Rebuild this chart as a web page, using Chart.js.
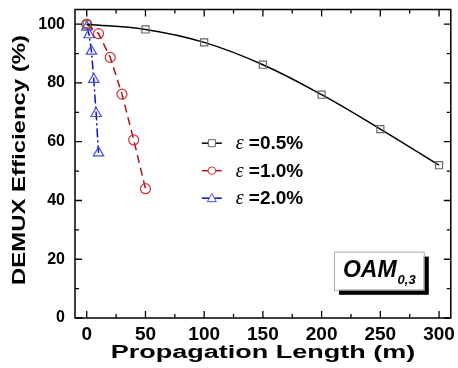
<!DOCTYPE html>
<html>
<head>
<meta charset="utf-8">
<script src="https://cdn.jsdelivr.net/npm/chart.js@4.4.1/dist/chart.umd.min.js"></script>
<style>
  html, body { margin: 0; padding: 0; background: #fff; }
  #wrap { width: 458px; height: 368px; }
</style>
</head>
<body>
<div id="wrap"><canvas id="myChart" width="458" height="368"></canvas></div>
<script>
// propagation length (m) and efficiency (%)
const lenA = [0, 50, 100, 150, 200, 250, 300];
const effA = [100, 98.2, 93.8, 86.2, 76, 64.3, 52];
const lenB = [0, 10, 20, 30, 40, 50];
const effB = [100, 96.8, 88.7, 76.2, 60.6, 44];
const lenC = [0, 2, 4, 6, 8, 10];
const effC = [99, 96.4, 90.8, 81.2, 69.6, 56.2];

const seriesNames = ["=0.5%", "=1.0%", "=2.0%"];
const xTicks = [0, 50, 100, 150, 200, 250, 300];
const yTicks = [0, 20, 40, 60, 80, 100];
const xTitle = "Propagation Length (m)";
const yTitle = "DEMUX Efficiency (%)";
const modeLabel = "OAM";
const modeSub = "0,3";

function pts(xs, ys) {
  return xs.map((v, i) => ({ x: v, y: ys[i] }));
}

const styles = [
  { line: "#000000", pt: "#666666", shape: "rect", dash: [], tension: 0.4 },
  { line: "#b01010", pt: "#d03030", shape: "circle", dash: [8, 5], tension: 0 },
  { line: "#0a10c0", pt: "#4050e0", shape: "triangle", dash: [9, 3, 2, 3], tension: 0 }
];

const dataSource = {
  datasets: [pts(lenA, effA), pts(lenB, effB), pts(lenC, effC)].map((d, i) => ({
    label: seriesNames[i],
    data: d,
    showLine: true,
    borderColor: styles[i].line,
    borderWidth: 1.5,
    borderDash: styles[i].dash,
    tension: styles[i].tension,
    pointStyle: styles[i].shape,
    pointRadius: styles[i].shape === "triangle" ? 6 : 5,
    pointBorderColor: styles[i].pt,
    pointBackgroundColor: "rgba(255,255,255,0)",
    pointBorderWidth: 1.2
  }))
};

// the original text is stretched sideways, so titles are drawn here
function wideText(ctx, text, cx, cy, rot, sx) {
  ctx.save();
  ctx.translate(cx, cy);
  ctx.rotate(rot);
  ctx.scale(sx, 1);
  ctx.font = "bold 18px 'Liberation Sans'";
  ctx.textAlign = "center";
  ctx.textBaseline = "middle";
  ctx.fillStyle = "#000";
  ctx.fillText(text, 0, 0);
  ctx.restore();
}

// box, inward ticks, legend and the mode tag
const frame = {
  id: "frame",
  afterDraw(chart) {
    const ctx = chart.ctx;
    const a = chart.chartArea;
    const x = chart.scales.x, y = chart.scales.y;
    ctx.save();
    ctx.strokeStyle = "#000";
    ctx.lineWidth = 1.5;
    ctx.strokeRect(a.left, a.top, a.right - a.left, a.bottom - a.top);
    ctx.lineWidth = 1.3;
    ctx.beginPath();
    for (let v = 0; v <= 300; v += 25) {
      const px = x.getPixelForValue(v);
      const len = v % 50 === 0 ? 7 : 4;
      ctx.moveTo(px, a.bottom); ctx.lineTo(px, a.bottom - len);
      ctx.moveTo(px, a.top); ctx.lineTo(px, a.top + len);
    }
    for (let v = 0; v <= 100; v += 10) {
      const py = y.getPixelForValue(v);
      const len = v % 20 === 0 ? 7 : 4;
      ctx.moveTo(a.left, py); ctx.lineTo(a.left + len, py);
      ctx.moveTo(a.right, py); ctx.lineTo(a.right - len, py);
    }
    ctx.stroke();

    wideText(ctx, xTitle, (a.left + a.right) / 2, 353, 0, 1.5);
    wideText(ctx, yTitle, 20, 160, -Math.PI / 2, 1.33);

    // legend
    const lx = x.getPixelForValue(98);
    let ly = y.getPixelForValue(59.5);
    chart.data.datasets.forEach((ds, i) => {
      ctx.save();
      ctx.strokeStyle = ds.borderColor;
      ctx.lineWidth = 1.5;
      ctx.beginPath();
      ctx.moveTo(lx, ly); ctx.lineTo(lx + 20, ly);
      ctx.stroke();
      ctx.fillStyle = "#fff";
      ctx.strokeStyle = ds.pointBorderColor;
      ctx.lineWidth = 1;
      ctx.beginPath();
      if (ds.pointStyle === "rect") {
        ctx.rect(lx + 6.5, ly - 3.5, 7, 7);
      } else if (ds.pointStyle === "circle") {
        ctx.arc(lx + 10, ly, 3.8, 0, Math.PI * 2);
      } else {
        ctx.moveTo(lx + 10, ly - 4.5); ctx.lineTo(lx + 14.5, ly + 3.5); ctx.lineTo(lx + 5.5, ly + 3.5); ctx.closePath();
      }
      ctx.fill();
      ctx.stroke();
      ctx.restore();
      ctx.fillStyle = "#000";
      ctx.textBaseline = "middle";
      ctx.font = "italic 20px 'Liberation Serif'";
      ctx.fillText("\u03B5", lx + 34, ly + 1);
      ctx.font = "bold 19px 'Liberation Sans'";
      ctx.fillText(ds.label, lx + 47, ly + 1);
      ly += 27.5;
    });

    // mode tag
    const bx = x.getPixelForValue(210.5), bx2 = x.getPixelForValue(287);
    const by = y.getPixelForValue(22.6), by2 = y.getPixelForValue(9.6);
    ctx.fillStyle = "#000";
    ctx.fillRect(bx + 5, by + 5, bx2 - bx, by2 - by);
    ctx.fillStyle = "#fff";
    ctx.fillRect(bx, by, bx2 - bx, by2 - by);
    ctx.strokeStyle = "#aaa";
    ctx.lineWidth = 1;
    ctx.strokeRect(bx + 0.5, by + 0.5, bx2 - bx, by2 - by);
    ctx.fillStyle = "#000";
    ctx.textBaseline = "alphabetic";
    ctx.font = "italic bold 23px 'Liberation Sans'";
    ctx.fillText(modeLabel, bx + 9, by + 25);
    const w = ctx.measureText(modeLabel).width;
    ctx.font = "italic bold 13px 'Liberation Sans'";
    ctx.fillText(modeSub, bx + 10 + w, by + 32);
    ctx.restore();
  }
};

const tickFont = { family: "'Liberation Sans', Arial", size: 16, weight: "bold" };
const xTickFont = { family: "'Liberation Sans', Arial", size: 19, weight: "bold" };

new Chart(document.getElementById("myChart"), {
  type: "scatter",
  data: dataSource,
  options: {
    responsive: false,
    animation: false,
    layout: { padding: { left: 0, top: 9.5, right: 4.5, bottom: 0 } },
    plugins: { legend: { display: false }, tooltip: { enabled: false } },
    scales: {
      x: {
        type: "linear",
        min: -10,
        max: 310,
        afterBuildTicks: s => { s.ticks = xTicks.map(v => ({ value: v })); },
        afterFit: s => { s.height = 50; s.paddingLeft = 0; s.paddingRight = 0; },
        grid: { display: false, drawTicks: false },
        border: { display: false },
        ticks: { font: xTickFont, color: "#000", padding: 5, maxRotation: 0 }
      },
      y: {
        type: "linear",
        min: 0,
        max: 105,
        afterBuildTicks: s => { s.ticks = yTicks.map(v => ({ value: v })); },
        afterFit: s => { s.width = 75; s.paddingTop = 0; s.paddingBottom = 0; },
        grid: { display: false, drawTicks: false },
        border: { display: false },
        ticks: { font: tickFont, color: "#000", padding: 10 }
      }
    }
  },
  plugins: [frame]
});
</script>
</body>
</html>
